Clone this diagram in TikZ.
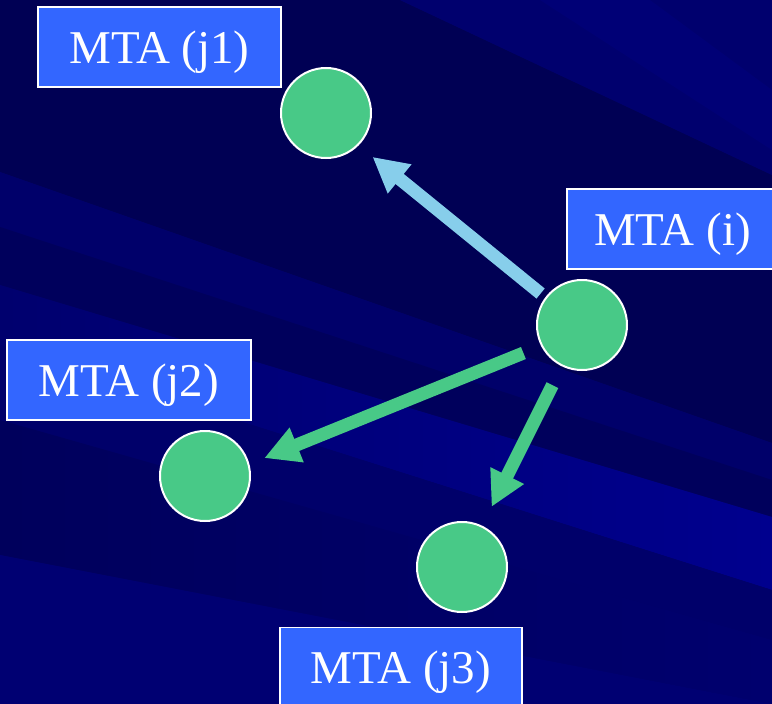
\documentclass[tikz,border=0pt]{standalone}
\usepackage{fontspec}
\setmainfont{Liberation Serif}
\usetikzlibrary{arrows.meta}

\definecolor{boxblue}{RGB}{51,102,255}
\definecolor{hostgreen}{RGB}{72,201,135}
\definecolor{linkblue}{RGB}{135,206,235}
\definecolor{bgbase}{RGB}{0,0,104}
\definecolor{bgdark}{RGB}{0,0,84}
\definecolor{bgdeep}{RGB}{0,0,92}
\definecolor{bgmid}{RGB}{0,0,106}
\definecolor{bgsoft}{RGB}{0,0,110}
\definecolor{bgstripe}{RGB}{0,0,118}
\definecolor{bglight}{RGB}{0,0,110}
\definecolor{bgbright}{RGB}{0,0,142}
\definecolor{bglow}{RGB}{0,0,114}

\begin{document}
\begin{tikzpicture}[x=1pt,y=-1pt,
  mta/.style={draw=white, line width=1.5pt, fill=boxblue, text=white,
    font=\fontsize{47}{50}\selectfont, inner sep=0pt,
    minimum height=80pt, text height=36pt, text depth=4pt},
  host/.style={circle, draw=white, line width=2pt, fill=hostgreen,
    minimum size=90pt, inner sep=0pt},
  link/.style={line width=13pt, -{Triangle[length=35pt,width=35pt]}},
]
\useasboundingbox (0,0) rectangle (772,704);
\clip (0,0) rectangle (772,704);

% streaked backdrop
\fill[bgbase] (0,0) rectangle (772,704);
\fill[bgdark] (0,0) -- (400,0) -- (772,175) -- (772,443) -- (0,172) -- cycle;
\fill[bgsoft] (400,0) -- (772,0) -- (772,175) -- cycle;
\fill[bgstripe] (540,0) -- (650,0) -- (772,90) -- (772,150) -- cycle;
\fill[bgmid] (0,172) -- (772,443) -- (772,480) -- (0,227) -- cycle;
\fill[bgdeep] (0,227) -- (772,480) -- (772,517) -- (0,285) -- cycle;
\shade[left color=bglight, right color=bgbright]
  (0,285) -- (772,517) -- (772,590) -- (0,345) -- cycle;
\fill[bgmid] (0,345) -- (772,590) -- (772,640) -- (0,420) -- cycle;
\shade[left color=bgdeep, right color=bgsoft]
  (0,420) -- (772,640) -- (772,704) -- (0,555) -- cycle;
\fill[bglow] (0,555) -- (772,704) -- (0,704) -- cycle;

% hosts
\node[host] (j1) at (326,113) {};
\node[host] (i)  at (582,325) {};
\node[host] (j2) at (205,476) {};
\node[host] (j3) at (462,567) {};

% labels
\node[mta, minimum width=243pt] (lj1) at (159.5,47)   {MTA (j1)};
\node[mta, minimum width=244pt] (lj2) at (129,380)    {MTA (j2)};
\node[mta, minimum width=211pt] (li)  at (672.5,229)  {MTA (i)};
\node[mta, minimum width=242pt] (lj3) at (401,667.5)  {MTA (j3)};

% transfers
\draw[link, linkblue,  shorten <=6pt,  shorten >=18pt] (i.143) -- (j1.315);
\draw[link, hostgreen, shorten <=19pt, shorten >=16pt] (i.207) -- (j2.15);
\draw[link, hostgreen, shorten <=21pt, shorten >=21pt] (i.244) -- (j3.64);
\end{tikzpicture}
\end{document}
